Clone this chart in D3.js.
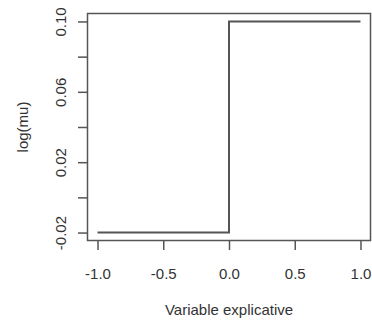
<!DOCTYPE html>
<html>
<head>
<meta charset="utf-8">
<script src="https://cdn.jsdelivr.net/npm/d3@7/dist/d3.min.js"></script>
<style>
  html, body { margin: 0; padding: 0; background: #fff; }
  svg { display: block; }
  text { font-family: "Liberation Sans", Arial, sans-serif; fill: #333; }
</style>
</head>
<body>
<svg id="chart" width="372" height="320"></svg>
<script>
// Step function: log(mu) jumps at x = 0
const stepX = [-1, 0, 1];
const stepY = [-0.02, 0.10, 0.10];

const xTicks = [-1.0, -0.5, 0.0, 0.5, 1.0];
const yTicks = [-0.02, 0.00, 0.02, 0.04, 0.06, 0.08, 0.10];
const yLabelled = [-0.02, 0.02, 0.06, 0.10];

const xTitle = "Variable explicative";
const yTitle = "log(mu)";

const svg = d3.select("#chart");
const box = { left: 87, right: 371, top: 13, bottom: 241 };
const ink = "#555";
const fontPx = 15;

// plain hyphen for negatives
const fmt = p => d => d3.format(p)(d).replace("\u2212", "-");

// 4% padding around the data range
const xPad = (1 - (-1)) * 0.04;
const yPad = (0.10 - (-0.02)) * 0.04;
const x = d3.scaleLinear().domain([-1 - xPad, 1 + xPad]).range([box.left, box.right]);
const y = d3.scaleLinear().domain([-0.02 - yPad, 0.10 + yPad]).range([box.bottom, box.top]);

// plot frame
svg.append("rect")
  .attr("x", box.left + 0.5).attr("y", box.top + 0.5)
  .attr("width", box.right - box.left - 1).attr("height", box.bottom - box.top - 1)
  .attr("fill", "none").attr("stroke", ink).attr("stroke-width", 1.5);

// x axis: tick marks below the frame
const xAxis = d3.axisBottom(x).tickValues(xTicks).tickSize(9).tickFormat(fmt(".1f"));
const gx = svg.append("g").attr("transform", `translate(0,${box.bottom})`).call(xAxis);
gx.select(".domain").remove();
gx.selectAll(".tick line").attr("stroke", ink).attr("stroke-width", 1.5);
gx.selectAll(".tick text").attr("font-size", fontPx).attr("fill", "#333")
  .style("font-family", '"Liberation Sans", Arial, sans-serif')
  .attr("dy", null).attr("y", 38);

// y axis: ticks left of the frame, labels rotated
const yAxis = d3.axisLeft(y).tickValues(yTicks).tickSize(9)
  .tickFormat(d => yLabelled.some(v => Math.abs(v - d) < 1e-9) ? fmt(".2f")(d) : "");
const gy = svg.append("g").attr("transform", `translate(${box.left},0)`).call(yAxis);
gy.select(".domain").remove();
gy.selectAll(".tick line").attr("stroke", ink).attr("stroke-width", 1.5);
gy.selectAll(".tick text")
  .attr("font-size", fontPx).attr("fill", "#333")
  .style("font-family", '"Liberation Sans", Arial, sans-serif')
  .attr("x", null).attr("dy", null)
  .attr("text-anchor", "middle")
  .attr("transform", "translate(-21,0) rotate(-90)");

// step line
const pts = stepX.map((d, i) => [d, stepY[i]]);
const line = d3.line().x(d => x(d[0])).y(d => y(d[1])).curve(d3.curveStepAfter);
svg.append("path")
  .datum(pts)
  .attr("d", line)
  .attr("fill", "none")
  .attr("stroke", ink)
  .attr("stroke-width", 2);

// axis titles
svg.append("text")
  .attr("x", (box.left + box.right) / 2).attr("y", 315)
  .attr("text-anchor", "middle").attr("font-size", fontPx)
  .text(xTitle);

svg.append("text")
  .attr("transform", `translate(28,${(box.top + box.bottom) / 2}) rotate(-90)`)
  .attr("text-anchor", "middle").attr("font-size", fontPx)
  .text(yTitle);
</script>
</body>
</html>
